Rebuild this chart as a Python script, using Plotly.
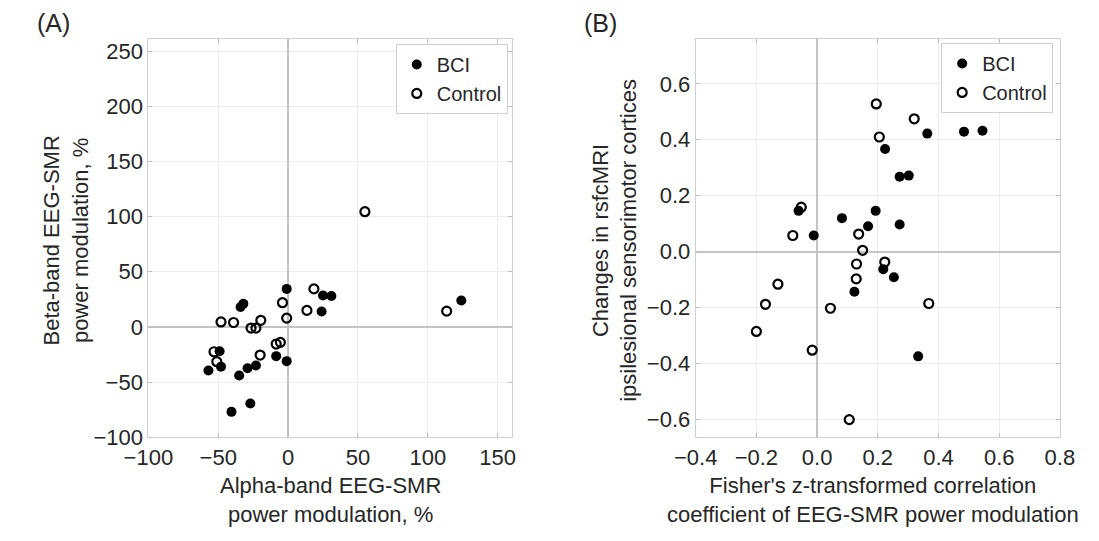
import plotly.graph_objects as go

# ---- Panel A data ----
bci_alpha = [-1, 25, 31, 24, -32, -34, -49, -48, -57, -35, -29, -23, -8.5, -1, -27, -40.5, 124]
bci_beta = [34.5, 28.5, 28, 14, 21, 18, -22, -36, -39.5, -44, -37.5, -35, -26.5, -31, -69.5, -77, 24]
ctrl_alpha = [18.5, -4, 13.5, -1, -48, -39, -19.5, -26.5, -23, -8.5, -5.5, -20, -53, -51, 105, 55, 113.5]
ctrl_beta = [34.5, 22, 15, 8, 4.5, 4, 6, -1, -1, -15.5, -14, -25.5, -22.5, -31.5, 211, 104.5, 14.3]

# ---- Panel B data ----
bci_z = [0.464, 0.484, 0.545, 0.363, 0.224, 0.272, 0.302, 0.193, -0.061, 0.082, 0.168, 0.272, -0.011, 0.218, 0.253, 0.123, 0.333]
bci_fc = [0.543, 0.429, 0.432, 0.422, 0.367, 0.268, 0.272, 0.146, 0.146, 0.12, 0.091, 0.097, 0.058, -0.063, -0.091, -0.143, -0.374]
ctrl_z = [0.195, 0.32, 0.205, -0.052, -0.08, 0.137, 0.15, 0.13, 0.223, 0.129, -0.129, -0.17, -0.2, 0.044, -0.016, 0.106, 0.368]
ctrl_fc = [0.528, 0.475, 0.41, 0.159, 0.058, 0.063, 0.005, -0.044, -0.037, -0.097, -0.116, -0.188, -0.285, -0.202, -0.352, -0.6, -0.185]

ticks_a_x = [-100, -50, 0, 50, 100, 150]
ticks_a_y = [-100, -50, 0, 50, 100, 150, 200, 250]
ticks_b_x = [-0.4, -0.2, 0.0, 0.2, 0.4, 0.6, 0.8]
ticks_b_y = [-0.6, -0.4, -0.2, 0.0, 0.2, 0.4, 0.6]

W, H = 1099, 541
FONT = "Liberation Sans, Arial, sans-serif"
TXT = "#262626"

def px_x(p):
    return p / W

def px_y(p):
    return 1 - p / H

fig = go.Figure()

filled = dict(symbol="circle", size=10, color="black", line=dict(width=0))
opened = dict(symbol="circle-open", size=9, color="black", line=dict(width=2.2, color="black"))

fig.add_trace(go.Scatter(x=bci_alpha, y=bci_beta, mode="markers", marker=filled,
                         name="BCI", xaxis="x", yaxis="y", legend="legend"))
fig.add_trace(go.Scatter(x=ctrl_alpha, y=ctrl_beta, mode="markers", marker=opened,
                         name="Control", xaxis="x", yaxis="y", legend="legend"))
fig.add_trace(go.Scatter(x=bci_z, y=bci_fc, mode="markers", marker=filled,
                         name="BCI", xaxis="x2", yaxis="y2", legend="legend2"))
fig.add_trace(go.Scatter(x=ctrl_z, y=ctrl_fc, mode="markers", marker=opened,
                         name="Control", xaxis="x2", yaxis="y2", legend="legend2"))

axis_common = dict(
    showgrid=True, gridcolor="#ececec", gridwidth=1,
    zeroline=True, zerolinecolor="#c4c4c4", zerolinewidth=1.5,
    showline=True, linecolor="#cfcfcf", linewidth=1, mirror="ticks",
    ticks="inside", ticklen=4, tickcolor="#bdbdbd",
    tickfont=dict(family=FONT, size=22, color=TXT),
)

yA_top, yA_bot = 40, 448
legend_common = dict(xanchor="right", yanchor="top",
                     bgcolor="white", bordercolor="#cfcfcf", borderwidth=1,
                     font=dict(family=FONT, size=20, color=TXT),
                     itemwidth=30, tracegroupgap=0)
fig.update_layout(
    width=W, height=H,
    margin=dict(l=0, r=0, t=0, b=0),
    paper_bgcolor="white", plot_bgcolor="white",
    font=dict(family=FONT, color=TXT),
    xaxis=dict(domain=[px_x(128), px_x(505)], range=[-100, 160], tickvals=ticks_a_x,
               anchor="y", **axis_common),
    yaxis=dict(domain=[px_y(yA_bot), px_y(yA_top)], range=[-100, 261], tickvals=ticks_a_y,
               anchor="x", **axis_common),
    xaxis2=dict(domain=[px_x(696), px_x(1074)], range=[-0.4, 0.8], tickvals=ticks_b_x,
                tickformat=".1f", anchor="y2", **axis_common),
    yaxis2=dict(domain=[px_y(yA_bot), px_y(yA_top)], range=[-0.663, 0.76], tickvals=ticks_b_y,
                tickformat=".1f", anchor="x2", **axis_common),
    legend=dict(x=px_x(501), y=px_y(45), **legend_common),
    legend2=dict(x=px_x(1067), y=px_y(44), **legend_common),
    showlegend=True,
)

ann_font = dict(family=FONT, size=22, color=TXT)
annotations = [
    dict(text="(A)", x=px_x(10), y=px_y(24), xanchor="left", yanchor="middle",
         font=dict(family=FONT, size=25, color=TXT)),
    dict(text="(B)", x=px_x(578), y=px_y(24), xanchor="left", yanchor="middle",
         font=dict(family=FONT, size=25, color=TXT)),
    dict(text="Alpha-band EEG-SMR<br>power modulation, %", x=px_x(317), y=px_y(512),
         xanchor="center", yanchor="middle", font=ann_font),
    dict(text="Fisher's z-transformed correlation<br>coefficient of EEG-SMR power modulation",
         x=px_x(880), y=px_y(512), xanchor="center", yanchor="middle", font=ann_font),
    dict(text="Beta-band EEG-SMR<br>power modulation, %", x=px_x(43), y=px_y(246),
         xanchor="center", yanchor="middle", textangle=-90, font=ann_font),
    dict(text="Changes in rsfcMRI<br>ipsilesional sensorimotor cortices", x=px_x(612), y=px_y(246),
         xanchor="center", yanchor="middle", textangle=-90, font=ann_font),
]
for a in annotations:
    a.update(xref="paper", yref="paper", showarrow=False)
fig.update_layout(annotations=annotations)

fig.write_html("out.html")
